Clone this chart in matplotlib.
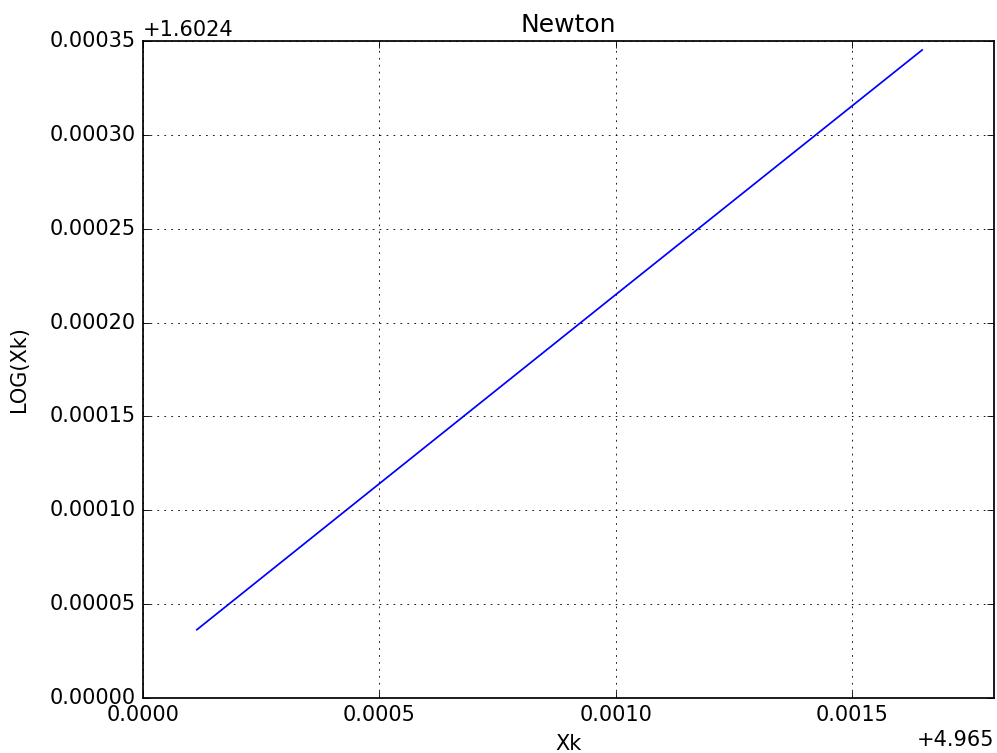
import matplotlib
matplotlib.use('Agg')
import matplotlib.pyplot as plt

plt.style.use('classic')

# Newton iterates (x_k) and their natural logs
xk = [4.965114, 4.965500, 4.966000, 4.966648]
log_xk = [1.6024364, 1.6025142, 1.6026149, 1.6027452]

title = 'Newton'
xlabel = 'Xk'
ylabel = 'LOG(Xk)'
x_offset = 4.965
y_offset = 1.6024

fig = plt.figure(figsize=(997 / 125, 753 / 125), dpi=125)
ax = fig.add_subplot(111)
fig.subplots_adjust(left=0.1434, right=0.997, bottom=0.073, top=0.9456)

ax.plot(xk, log_xk, color='b', linewidth=1.0)

ax.set_xlim(4.965, 4.9668)
ax.set_ylim(1.6024, 1.60275)
ax.xaxis.get_major_formatter().set_useOffset(x_offset)
ax.yaxis.get_major_formatter().set_useOffset(y_offset)
ax.grid(True)

ax.set_title(title)
ax.set_xlabel(xlabel)
ax.set_ylabel(ylabel, labelpad=12)

fig.savefig('out.png', dpi=125)
